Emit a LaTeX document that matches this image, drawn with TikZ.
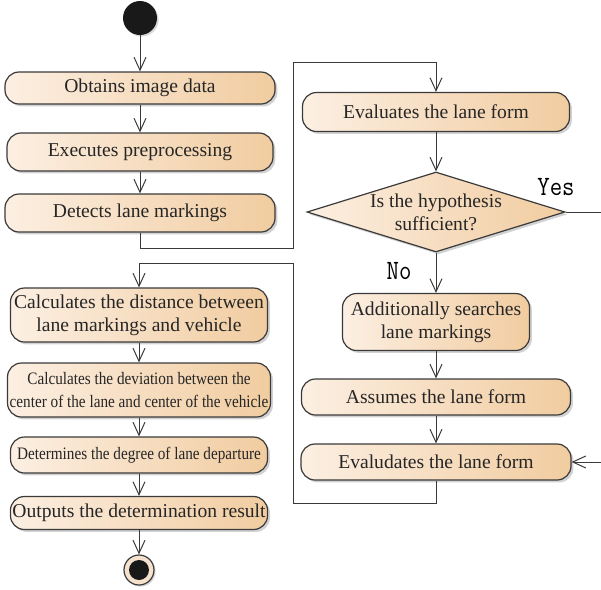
\documentclass[tikz,border=0pt]{standalone}
\usepackage{fontspec}
\setmainfont{Liberation Serif}
\newfontfamily\narrowfont[FakeStretch=0.87]{Liberation Serif}
\usepackage{tikz}
\usetikzlibrary{shapes.geometric, arrows.meta, shadows}
\usepackage{xcolor}
\definecolor{boxL}{HTML}{FCEFE2}
\definecolor{boxR}{HTML}{F1CCA0}
\definecolor{lineCol}{HTML}{3A3A3A}
\definecolor{endCol}{HTML}{F6E2CC}

\begin{document}
\begin{tikzpicture}[
    x=0.5pt, y=-0.5pt,
    box/.style={rectangle, rounded corners=7pt, draw=lineCol, line width=0.6pt, left color=boxL, right color=boxR, drop shadow={shadow xshift=1.2pt, shadow yshift=-1.2pt, fill=black!35, opacity=0.5}, align=center, inner sep=1pt, text=black!85, font=\fontsize{9.8}{11.4}\selectfont},
    narrowbox/.style={box, font=\narrowfont\fontsize{8.75}{11.3}\selectfont},
    decision/.style={diamond, aspect=3.2, draw=lineCol, line width=0.6pt, left color=boxL, right color=boxR, drop shadow={shadow xshift=1.2pt, shadow yshift=-1.2pt, fill=black!35, opacity=0.5}, align=center, inner sep=0pt, text=black!85, font=\fontsize{9.8}{11.4}\selectfont},
    guard/.style={font=\ttfamily\fontsize{14}{14}\selectfont, inner sep=0pt},
    flow/.style={-{Straight Barb[length=6.5pt, width=6pt]}, draw=lineCol, line width=0.5pt},
    plain/.style={draw=lineCol, line width=0.5pt}
]
\useasboundingbox (0,0) rectangle (601,590);

% =====================================================================
% LEFT COLUMN: DETECTION
% =====================================================================
\node[circle, fill=black!90, minimum size=17pt, inner sep=0pt, drop shadow={shadow xshift=0.8pt, shadow yshift=-0.8pt, fill=black!30, opacity=0.5}] (START) at (140,18) {};
\node[box, minimum width=135pt, minimum height=16pt] (OBT) at (140,88) {Obtains image data};
\node[box, minimum width=133pt, minimum height=19pt] (PRE) at (140,152) {Executes preprocessing};
\node[box, minimum width=135pt, minimum height=19pt] (DET) at (140,213) {Detects lane markings};

% =====================================================================
% RIGHT COLUMN: LANE FORM
% =====================================================================
\node[box, minimum width=133.5pt, minimum height=19.5pt] (EVA) at (436,112) {Evaluates the lane form};
\node[decision, minimum width=129pt, minimum height=40pt] (HYP) at (436,212) {Is the hypothesis\\sufficient?};
\node[box, minimum width=93.5pt, minimum height=28.5pt] (ADD) at (436,322) {Additionally searches\\lane markings};
\node[box, minimum width=134.5pt, minimum height=18pt] (ASM) at (436,397) {Assumes the lane form};
\node[box, minimum width=135pt, minimum height=18pt] (EVB) at (436,462) {Evaludates the lane form};

\node[guard] (YES) at (556,187) {\scalebox{0.86}[1]{Yes}};
\node[guard] (NO) at (399,271) {\scalebox{0.86}[1]{No}};

% =====================================================================
% LEFT COLUMN: DEPARTURE
% =====================================================================
\node[box, minimum width=128.5pt, minimum height=27pt] (DIST) at (139,315) {Calculates the distance between\\lane markings and vehicle};
\node[narrowbox, minimum width=131.5pt, minimum height=27pt] (DEV) at (139,390) {Calculates the deviation between the\\center of the lane and center of the vehicle};
\node[narrowbox, minimum width=128.5pt, minimum height=18pt] (DEG) at (139,455) {Determines the degree of lane departure};
\node[box, minimum width=128.5pt, minimum height=16.5pt] (OUT) at (139,513) {Outputs the determination result};
\node[circle, draw=lineCol, line width=0.6pt, fill=endCol, minimum size=15pt, inner sep=0pt, drop shadow={shadow xshift=0.8pt, shadow yshift=-0.8pt, fill=black!30, opacity=0.5}, path picture={\fill[black!90] (path picture bounding box.center) circle (5pt);}] (END) at (139,570) {};

% loop corners
\coordinate (L1a) at (293,248);
\coordinate (L1b) at (293,62);
\coordinate (L2a) at (293,503);
\coordinate (L2b) at (293,263);
\coordinate (YESEND) at (601,212);
\coordinate (BACKIN) at (601,462);

% =====================================================================
% EDGES
% =====================================================================
\draw[flow] (START) -- (OBT);
\draw[flow] (OBT) -- (PRE);
\draw[flow] (PRE) -- (DET);
\draw[flow] (DET.south) |- (L1a) -- (L1b) -| (EVA.north);
\draw[flow] (EVA) -- (HYP);
\draw[flow] (HYP) -- (ADD);
\draw[plain] (HYP.east) -- (YESEND);
\draw[flow] (ADD) -- (ASM);
\draw[flow] (ASM) -- (EVB);
\draw[flow] (BACKIN) -- (EVB.east);
\draw[flow] (EVB.south) |- (L2a) -- (L2b) -| (DIST.north);
\draw[flow] (DIST) -- (DEV);
\draw[flow] (DEV) -- (DEG);
\draw[flow] (DEG) -- (OUT);
\draw[flow] (OUT) -- (END);

\end{tikzpicture}
\end{document}
